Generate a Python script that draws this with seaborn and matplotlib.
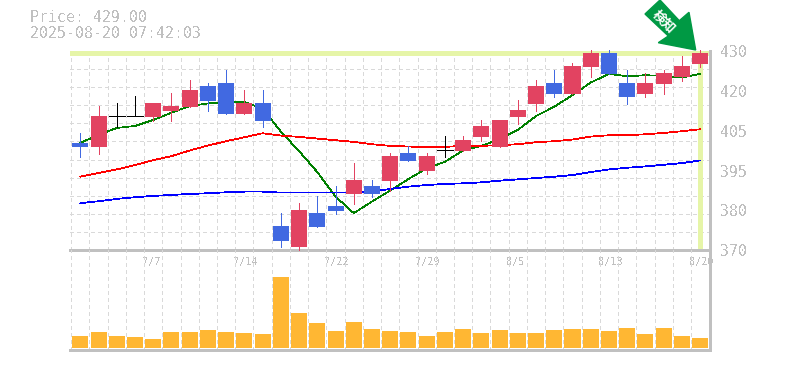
#!/usr/bin/env python
"""Candlestick chart with moving averages and volume, drawn on two stacked axes."""
import numpy as np
import matplotlib
matplotlib.use('Agg')
import matplotlib.pyplot as plt
from matplotlib.patches import Polygon
from matplotlib.transforms import Affine2D, ScaledTranslation
import seaborn as sns

# Trading days
dates = ['7/1', '7/2', '7/3', '7/4', '7/7', '7/8', '7/9', '7/10', '7/11', '7/14', '7/15', '7/16',
         '7/17', '7/18', '7/22', '7/23', '7/24', '7/25', '7/28', '7/29', '7/30', '7/31', '8/1', '8/4',
         '8/5', '8/6', '8/7', '8/8', '8/12', '8/13', '8/14', '8/15', '8/18', '8/19', '8/20']

# Candles, top and bottom of the body plus the wicks
body_top = [401.8, 409.9, 409.8, 409.8, 413.8, 412.9, 417.7, 419.0, 419.9, 413.8, 413.8, 376.7,
            381.6, 380.7, 382.8, 390.6, 388.8, 397.8, 398.7, 397.8, 399.7, 402.7, 406.9, 408.7,
            411.7, 419.0, 419.9, 425.0, 429.0, 429.0, 419.9, 419.9, 422.9, 425.0, 429.0]
body_bottom = [400.6, 400.6, 409.8, 409.8, 409.6, 411.4, 412.6, 414.4, 410.5, 410.5, 408.4, 372.2,
               370.4, 376.4, 381.3, 386.4, 386.4, 390.3, 396.3, 393.3, 399.7, 399.4, 403.6, 400.6,
               409.6, 413.5, 416.5, 416.5, 424.7, 422.6, 415.6, 416.5, 419.6, 421.7, 425.6]
wick_high = [404.8, 412.9, 413.8, 415.9, 413.8, 416.8, 420.8, 419.9, 423.8, 417.7, 417.7, 380.7,
             383.7, 385.8, 388.8, 395.7, 390.6, 398.7, 400.9, 398.7, 403.9, 403.9, 408.7, 408.7,
             414.7, 420.8, 423.8, 425.9, 429.8, 429.8, 423.8, 422.9, 423.8, 428.0, 429.8]
wick_low = [397.5, 398.4, 406.6, 409.8, 408.5, 408.4, 412.6, 411.4, 410.5, 410.5, 406.6, 370.4,
            369.4, 376.4, 380.4, 383.4, 385.5, 387.3, 396.3, 392.4, 397.5, 399.4, 402.4, 400.6,
            407.5, 411.4, 415.6, 416.5, 421.7, 422.6, 413.5, 415.6, 416.5, 420.5, 424.7]
# 1 up, -1 down, 0 unchanged
direction = [-1, 1, 0, 0, 1, 1, 1, -1, -1, 1, -1, -1, 1, -1, -1, 1, -1, 1, -1, 1, 0, 1, 1, 1,
             1, 1, -1, 1, 1, -1, -1, 1, 1, 1, 1]

# Moving averages
ma_short = [401.8, 404.2, 406.3, 406.9, 408.7, 410.9, 412.9, 413.7, 414.1, 414.1, 412.2, 405.2,
            399.3, 393.0, 385.6, 380.6, 384.1, 387.4, 390.9, 394.1, 396.1, 399.5, 400.9, 402.9,
            405.7, 409.9, 412.7, 416.2, 420.0, 422.6, 421.9, 422.2, 422.0, 421.5, 422.6]
ma_mid = [391.6, 392.7, 393.8, 395.1, 396.6, 397.8, 399.5, 401.0, 402.3, 403.5, 404.7, 404.0,
          403.6, 403.1, 402.6, 402.1, 401.4, 400.9, 400.7, 400.5, 400.6, 400.9, 400.9, 401.1,
          401.4, 402.0, 402.3, 402.8, 403.7, 404.1, 404.1, 404.4, 404.8, 405.3, 405.9]
ma_long = [383.6, 384.2, 384.9, 385.4, 385.8, 386.1, 386.4, 386.6, 386.9, 387.1, 387.1, 386.8,
           386.8, 386.8, 386.8, 386.8, 387.1, 387.9, 388.6, 389.1, 389.4, 389.6, 389.9, 390.4,
           390.8, 391.2, 391.6, 392.1, 393.0, 393.8, 394.3, 394.7, 395.2, 395.7, 396.5]

# Volume
volumes = [37, 49, 37, 34, 28, 49, 49, 55, 49, 46, 43, 214, 106, 76, 52, 79, 58, 52, 49, 37, 49, 58,
           46, 55, 46, 46, 55, 58, 58, 52, 61, 43, 61, 37, 31]

# Price axis labels and where they sit
price_labels = ['430', '420', '405', '395', '380', '370']
price_label_pos = [429, 417, 405, 393, 381, 369]
current_price = 429

GREY = '#c0c0c0'
GRID = '#d9d9d9'
UP = '#e24361'
DOWN = '#4169e1'
MARK = '#e6f5a8'
W, H = 785, 370
THIN = 0.55

sns.set_style('white')
plt.rcParams['font.family'] = ['DejaVu Sans Mono']
plt.rcParams['lines.antialiased'] = False
plt.rcParams['patch.antialiased'] = False
plt.rcParams['text.antialiased'] = False

x = np.arange(len(dates))
fig = plt.figure(figsize=(W / 100, H / 100), dpi=100)
ax = fig.add_axes([70.3 / W, 1 - 250.3 / H, 640 / W, 199.6 / H])
ax_vol = fig.add_axes([70.3 / W, 1 - 350.3 / H, 640 / W, 100 / H])
ax_vol.patch.set_visible(False)

for a in (ax, ax_vol):
    a.set_xlim(-0.55, 34.56)
    a.set_xticks(np.append(x - 0.5, x[-1] + 0.5), minor=True)
    a.grid(True, which='minor', axis='both', color=GRID, lw=THIN, ls=(0, (4, 4)))
    a.grid(False, which='major')
    a.set_axisbelow(True)
    a.tick_params(which='both', length=0)
    a.spines['left'].set_visible(False)
    a.spines['top'].set_visible(False)
    for s in ('right', 'bottom'):
        a.spines[s].set_color(GREY)
        a.spines[s].set_linewidth(1.0)

# price panel
ax.set_ylim(369.4, 429.6)
ax.set_yticks(np.linspace(369.4, 429.6, 12), minor=True)
ax.set_yticks([])
ax.set_xticks(x[4::5], [dates[i] for i in x[4::5]], color=GREY, fontsize=7.4)
ax.tick_params(axis='x', which='major', pad=4.5)
# date labels start a little left of their candle
shift = ScaledTranslation(-11 / 100, 0, fig.dpi_scale_trans)
for lab in ax.get_xticklabels():
    lab.set_ha('left')
    lab.set_transform(lab.get_transform() + shift)

# marker lines for the latest price
ax.axhline(current_price, color=MARK, lw=2.2, zorder=1.5)
ax.plot([x[-1], x[-1]], [current_price, 369.8], color=MARK, lw=2.2, zorder=1.5)

sns.lineplot(x=x, y=ma_short, color='#008000', lw=THIN, errorbar=None, ax=ax, zorder=2)
sns.lineplot(x=x, y=ma_mid, color='#ff0000', lw=THIN, errorbar=None, ax=ax, zorder=2)
sns.lineplot(x=x, y=ma_long, color='#0000ff', lw=THIN, errorbar=None, ax=ax, zorder=2)

colors = [UP if d > 0 else DOWN if d < 0 else 'black' for d in direction]
ax.vlines(x, wick_low, wick_high, colors=colors, lw=THIN, zorder=3, clip_on=False)
heights = np.array(body_top) - np.array(body_bottom)
ax.bar(x, heights, bottom=body_bottom, width=0.88, color=colors, linewidth=0, zorder=4)
# unchanged days get a flat line instead of a body
for i, d in enumerate(direction):
    if d == 0:
        ax.hlines(body_top[i], i - 0.44, i + 0.44, colors='black', lw=THIN, zorder=4)

for val, lab in zip(price_label_pos, price_labels):
    ax.annotate(lab, xy=(1, val), xycoords=('axes fraction', 'data'), xytext=(10, 0),
                textcoords='offset pixels', color=GREY, fontsize=10.7, va='center', ha='left')

# volume panel
sns.barplot(x=x, y=volumes, native_scale=True, color='#ffb733', saturation=1, width=0.88,
            linewidth=0, ax=ax_vol, zorder=3)
ax_vol.set_xlim(-0.55, 34.56)
ax_vol.set_ylim(-6, 294)
ax_vol.set_yticks([])
ax_vol.set_xticks([])
ax_vol.set_xticks(np.append(x - 0.5, x[-1] + 0.5), minor=True)
ax_vol.set_xlabel('')
ax_vol.set_ylabel('')

# header
fig.text(30 / W, 1 - 18 / H, 'Price: 429.00', color=GREY, fontsize=10.7, va='center')
fig.text(30 / W, 1 - 33 / H, '2025-08-20 07:42:03', color=GREY, fontsize=10.7, va='center')

# signal arrow
to_fig = Affine2D().scale(1, -1).translate(0, H)
arrow = [(645, 14), (660, 0), (679.3, 20.7), (689, 12.3), (695.7, 50), (658.3, 42.7), (668.3, 36)]
fig.add_artist(Polygon(arrow, closed=True, color='#009944', transform=to_fig, antialiased=True, zorder=6))
fig.text(664 / W, 1 - 22 / H, '検知', color='white', fontsize=9.5, rotation=-45, fontweight='bold',
         family=['Noto Sans CJK JP', 'DejaVu Sans'], ha='center', va='center', zorder=7,
         rotation_mode='anchor', antialiased=True)

fig.savefig('out.png', dpi=100)
